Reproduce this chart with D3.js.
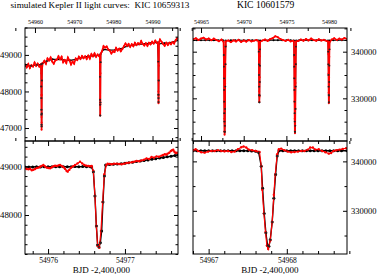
<!DOCTYPE html>
<html>
<head>
<meta charset="utf-8">
<script src="https://cdn.jsdelivr.net/npm/d3@7"></script>
<style>
  body { margin: 0; background: #fff; }
  svg { display: block; font-family: "Liberation Serif", "Times New Roman", serif; }
</style>
</head>
<body>
<script>
// ---------------------------//
//       DATA                 //
// ---------------------------//

var titleLeft = "simulated Kepler II light curves:  KIC 10659313";
var titleRight = "KIC 10601579";
var xLabel = "BJD -2,400,000";

// KIC 10659313, full light curve (observed, red)
var tlRed = [
  [54957.5,48740],[54957.9,48660],[54958.3,48750],[54958.7,48640],[54959.1,48720],[54959.5,48680],
  [54959.9,48790],[54960.3,48700],[54960.7,48760],[54961.1,48680],[54961.5,48740],
  [54961.60,48500],[54961.64,47900],[54961.67,47300],[54961.69,46955],[54961.71,47150],[54961.74,47900],[54961.78,48600],
  [54962.0,48780],[54962.4,48840],[54962.8,48760],[54963.2,48900],[54963.6,48850],[54964.0,48930],
  [54964.4,48820],[54964.8,48760],[54965.2,48850],[54965.6,48870],[54966.0,48960],[54966.4,48880],
  [54966.8,48950],[54967.2,48800],[54967.6,48860],[54968.0,48780],[54968.4,48930],[54968.8,48850],
  [54969.2,48740],[54969.6,48820],[54970.0,48760],[54970.4,48900],[54970.8,48860],[54971.2,48950],
  [54971.6,48890],[54972.0,48970],[54972.4,48910],[54972.8,48960],[54973.2,48890],[54973.6,48980],
  [54974.0,48900],[54974.4,49020],[54974.8,48960],[54975.2,49040],[54975.6,48950],[54976.0,49010],
  [54976.4,48960],
  [54976.55,48950],[54976.60,48500],[54976.63,47800],[54976.66,47345],[54976.69,47650],[54976.72,48500],[54976.77,49030],
  [54977.1,49100],[54977.5,49240],[54977.9,49200],[54978.3,49230],[54978.7,49150],[54979.1,49120],
  [54979.5,49040],[54979.9,49100],[54980.3,49080],[54980.7,49190],[54981.1,49120],[54981.5,49170],
  [54981.9,49100],[54982.3,49160],[54982.7,49240],[54983.1,49310],[54983.5,49250],[54983.9,49300],
  [54984.3,49220],[54984.7,49290],[54985.1,49240],[54985.5,49330],[54985.9,49270],[54986.3,49320],
  [54986.7,49290],[54987.1,49380],[54987.5,49300],[54987.9,49260],[54988.3,49320],[54988.7,49250],
  [54989.1,49330],[54989.5,49290],[54989.9,49360],[54990.3,49310],[54990.7,49390],[54991.1,49330],
  [54991.40,49300],[54991.46,48800],[54991.50,48000],[54991.53,47680],[54991.56,47900],[54991.60,48700],[54991.66,49350],
  [54991.9,49420],[54992.3,49360],[54992.7,49300],[54993.1,49250],[54993.5,49330],[54993.9,49270],
  [54994.3,49330],[54994.7,49290],[54995.1,49350],[54995.5,49310],[54995.9,49400],[54996.3,49460]
];

// KIC 10659313, full light curve (model, black)
var tlModel = [
  [54957.5,48700],[54959.0,48700],[54960.5,48730],[54961.55,48740],
  [54961.62,48136],[54961.64,47818],[54961.66,47500],[54961.67,47364],[54961.68,47090],[54961.70,47045],
  [54961.72,47400],[54961.76,48300],[54961.85,48760],
  [54963.0,48830],[54964.5,48880],[54966.0,48880],[54967.5,48860],[54969.0,48850],[54970.5,48880],
  [54972.0,48930],[54973.5,48960],[54975.0,48980],[54976.5,48990],
  [54976.60,48400],[54976.63,47773],[54976.65,47636],[54976.66,47345],[54976.70,47700],[54976.74,48800],[54976.78,49030],
  [54977.5,49150],[54979.0,49130],[54980.5,49140],[54982.0,49170],[54983.5,49240],[54985.0,49270],
  [54986.5,49290],[54988.0,49300],[54989.5,49320],[54991.3,49340],
  [54991.47,48818],[54991.50,47910],[54991.52,47818],[54991.53,47709],[54991.57,48300],[54991.62,49300],
  [54993.0,49320],[54994.5,49330],[54996.5,49400]
];

// KIC 10601579, full light curve (observed, red)
var trRed = [
  [54964.1,342650],[54964.4,342900],[54964.7,342500],[54965.0,342800],[54965.3,343000],[54965.6,342600],
  [54965.9,342850],[54966.2,342450],[54966.5,342800],[54966.8,342500],[54967.1,342250],[54967.4,342600],
  [54967.64,342100],[54967.67,339000],[54967.69,334300],[54967.71,329400],[54967.73,325600],[54967.75,322900],
  [54967.76,322200],[54967.79,324000],[54967.81,327700],[54967.83,333200],[54967.85,337300],[54967.88,341400],[54967.90,342200],
  [54968.2,342400],[54968.5,342050],[54968.8,342450],[54969.1,342200],[54969.4,342550],[54969.7,342100],
  [54970.0,342400],[54970.3,342150],[54970.6,342500],[54970.9,342200],[54971.2,342350],[54971.5,342500],
  [54971.74,342200],[54971.77,339800],[54971.79,335500],[54971.81,331500],[54971.83,329200],[54971.85,330400],
  [54971.87,334500],[54971.89,339000],[54971.92,342100],
  [54972.2,342400],[54972.5,342600],[54972.8,342300],[54973.1,342700],[54973.4,342900],[54973.7,343300],
  [54974.0,343100],[54974.3,342700],[54974.6,342500],[54974.9,342300],[54975.2,342550],[54975.5,342200],[54975.8,342350],
  [54975.88,342100],[54975.91,339000],[54975.93,334300],[54975.95,329400],[54975.97,325600],[54975.99,323000],
  [54976.00,322500],[54976.03,324100],[54976.05,327800],[54976.07,333300],[54976.09,337300],[54976.12,341400],[54976.14,342200],
  [54976.4,342300],[54976.7,342600],[54977.0,342350],[54977.3,342700],[54977.6,342400],[54977.9,342800],
  [54978.2,342500],[54978.5,342350],[54978.8,342650],[54979.1,342400],[54979.4,342550],[54979.7,342300],
  [54979.88,342200],[54979.91,339500],[54979.93,335300],[54979.95,331200],[54979.97,328950],[54979.99,330300],
  [54980.01,334400],[54980.03,338900],[54980.06,342000],
  [54980.3,342600],[54980.6,342900],[54980.9,342500],[54981.2,342800],[54981.5,342600],[54981.8,342950],[54982.1,342700]
];

// KIC 10601579, full light curve (model, black)
var trModel = [
  [54964.06,342450],[54964.5,342460],[54965.0,342450],[54965.5,342460],[54966.0,342450],[54966.5,342440],
  [54967.0,342450],[54967.5,342440],[54967.64,342400],
  [54967.673,339290],[54967.690,336790],[54967.700,334300],[54967.711,331800],[54967.722,329290],[54967.732,326810],
  [54967.742,325010],[54967.755,322870],[54967.771,322820],[54967.788,324120],[54967.813,327740],[54967.834,332530],
  [54967.856,337330],[54967.877,341100],[54967.90,342400],
  [54968.5,342450],[54969.0,342440],[54969.5,342450],[54970.0,342450],[54970.5,342440],[54971.0,342450],
  [54971.5,342440],[54971.74,342400],
  [54971.77,340000],[54971.785,337300],[54971.80,335010],[54971.815,332500],[54971.825,330730],[54971.835,329160],
  [54971.85,330600],[54971.865,333500],[54971.88,337000],[54971.90,340500],[54971.92,342400],
  [54972.5,342450],[54973.0,342460],[54973.5,342470],[54974.0,342460],[54974.5,342450],[54975.0,342440],
  [54975.5,342450],[54975.88,342400],
  [54975.913,339290],[54975.930,336790],[54975.940,334300],[54975.951,331800],[54975.962,329290],[54975.972,326810],
  [54975.982,325010],[54975.995,322870],[54976.011,322820],[54976.028,324120],[54976.053,327740],[54976.074,332530],
  [54976.096,337330],[54976.117,341100],[54976.14,342400],
  [54976.5,342450],[54977.0,342440],[54977.5,342450],[54978.0,342460],[54978.5,342450],[54979.0,342440],
  [54979.5,342450],[54979.88,342400],
  [54979.91,340000],[54979.925,337300],[54979.94,335010],[54979.955,332500],[54979.965,330730],[54979.975,329160],
  [54979.99,330600],[54980.005,333500],[54980.02,337000],[54980.04,340500],[54980.06,342400],
  [54980.5,342450],[54981.0,342460],[54981.5,342450],[54982.1,342450]
];

// KIC 10659313, zoom on one eclipse (observed, red)
var blRed = [
  [54975.701,48959],[54975.723,48945],[54975.745,48938],[54975.766,48952],[54975.788,48918],[54975.810,48931],
  [54975.831,48945],[54975.853,48966],[54975.874,48973],[54975.896,48990],[54975.918,49010],[54975.939,49027],
  [54975.961,48995],[54975.983,48973],[54976.004,48966],[54976.026,48959],[54976.048,48980],[54976.070,49000],
  [54976.091,49014],[54976.113,49007],[54976.135,49020],[54976.156,49027],[54976.178,49007],[54976.199,48986],
  [54976.220,48950],[54976.240,48910],[54976.255,48890],[54976.277,48930],[54976.299,48973],[54976.325,49000],
  [54976.351,49027],[54976.383,49060],[54976.416,49096],[54976.444,49060],[54976.472,49027],[54976.498,49014],
  [54976.524,49007],[54976.546,49000],[54976.567,49007],
  [54976.589,48904],[54976.610,48390],[54976.628,47774],[54976.645,47363],[54976.667,47329],[54976.688,47671],
  [54976.710,48267],[54976.732,48836],[54976.758,49027],[54976.775,49055],
  [54976.801,49048],[54976.827,49041],[54976.859,49055],[54976.892,49055],[54976.925,49048],[54976.957,49041],
  [54976.990,49055],[54977.022,49068],[54977.055,49075],[54977.087,49082],[54977.120,49096],[54977.152,49110],
  [54977.184,49103],[54977.216,49123],[54977.249,49137],[54977.281,49164],[54977.314,49150],[54977.346,49192],
  [54977.378,49178],[54977.411,49205],[54977.443,49198],[54977.476,49219],[54977.497,49232],[54977.519,49247],
  [54977.537,49240],[54977.554,49260],[54977.576,49280],[54977.597,49315],[54977.613,49330],[54977.628,49342],
  [54977.643,49300],[54977.658,49274],[54977.676,49280],[54977.693,49274]
];

// KIC 10659313, zoom on one eclipse (model, black)
var blModel = [
  [54975.70,48985],[54975.75,48988],[54975.80,48986],[54975.85,48990],[54975.90,48988],[54975.95,48992],
  [54976.00,48990],[54976.05,48992],[54976.10,48990],[54976.15,48993],[54976.20,48991],[54976.25,48993],
  [54976.30,48992],[54976.35,48994],[54976.40,48992],[54976.45,48994],[54976.50,48993],[54976.55,48990],
  [54976.567,48986],[54976.589,48890],[54976.610,48390],[54976.628,47774],[54976.645,47384],[54976.662,47342],
  [54976.680,47432],[54976.697,47671],[54976.714,48267],[54976.732,48801],[54976.749,49027],
  [54976.80,49038],[54976.85,49043],[54976.90,49048],[54976.95,49055],[54977.00,49065],[54977.05,49075],
  [54977.10,49085],[54977.15,49097],[54977.20,49108],[54977.25,49120],[54977.30,49132],[54977.35,49145],
  [54977.40,49157],[54977.45,49170],[54977.50,49182],[54977.55,49195],[54977.60,49208],[54977.65,49222],[54977.69,49236]
];

// KIC 10601579, zoom on one eclipse (observed, red)
var brRed = [
  [54966.800,342252],[54966.834,342457],[54966.864,342115],[54966.906,341842],[54966.949,341773],[54966.992,341977],
  [54967.034,342115],[54967.077,342115],[54967.119,342252],[54967.162,342115],[54967.204,342047],[54967.247,342115],
  [54967.290,341909],[54967.332,341977],[54967.375,342457],[54967.417,342867],[54967.447,343004],[54967.481,342799],
  [54967.515,342388],[54967.558,342252],[54967.600,342115],[54967.630,341977],[54967.651,341900],
  [54967.673,339035],[54967.686,334250],[54967.707,329450],[54967.728,325690],[54967.745,322960],[54967.762,322260],
  [54967.788,324000],[54967.813,327740],[54967.834,333250],[54967.852,337330],[54967.877,341440],[54967.898,342457],
  [54967.928,342593],[54967.971,342252],[54968.013,341977],[54968.056,341842],[54968.098,341909],[54968.141,341977],
  [54968.184,342115],[54968.226,342115],[54968.269,342388],[54968.299,342799],[54968.333,342799],[54968.367,342388],
  [54968.409,342457],[54968.452,342115],[54968.494,341842],[54968.537,341566],[54968.567,341704],[54968.597,342115],
  [54968.631,342252],[54968.673,342388],[54968.716,342525],[54968.758,342663]
];

// KIC 10601579, zoom on one eclipse (model, black)
var brModel = [
  [54966.80,342150],[54966.85,342160],[54966.90,342150],[54966.95,342155],[54967.00,342150],[54967.05,342160],
  [54967.10,342150],[54967.15,342155],[54967.20,342150],[54967.25,342145],[54967.30,342150],[54967.35,342140],
  [54967.40,342150],[54967.45,342140],[54967.50,342130],[54967.55,342120],[54967.60,342050],[54967.64,341800],
  [54967.673,339035],[54967.690,334590],[54967.711,329450],[54967.732,325550],[54967.754,322960],[54967.771,322820],
  [54967.788,324120],[54967.813,327740],[54967.834,332530],[54967.856,337330],[54967.877,341100],[54967.90,342150],
  [54967.95,342160],[54968.00,342150],[54968.05,342155],[54968.10,342150],[54968.15,342160],[54968.20,342150],
  [54968.25,342155],[54968.30,342150],[54968.35,342160],[54968.40,342150],[54968.45,342155],[54968.50,342150],
  [54968.55,342160],[54968.60,342150],[54968.65,342155],[54968.70,342150],[54968.77,342150]
];

// tick values
var tlXTicks = [54960, 54970, 54980, 54990];
var tlYTicks = [47000, 48000, 49000];
var trXTicks = [54965, 54970, 54975, 54980];
var trYTicks = [330000, 340000];
var blXTicks = [54976, 54977];
var blYTicks = [48000, 49000];
var brXTicks = [54967, 54968];
var brYTicks = [330000, 340000];

// ---------------------------//
//       SVG                  //
// ---------------------------//

var svg = d3.select("body")
  .append("svg")
  .attr("width", 377)
  .attr("height", 274);

var defs = svg.append("defs");

function minorTicks(lo, hi, step, majors) {
  return d3.range(lo, hi + step / 2, step).filter(function(v) {
    return !majors.some(function(m) { return Math.abs(m - v) < step / 10; });
  });
}

function styleAxis(g, size) {
  g.attr("font-family", null).attr("font-size", null);
  g.select(".domain").remove();
  g.selectAll("line").attr("stroke", "#000");
  g.selectAll("text").attr("fill", "#000").style("font-size", size + "px");
}

function drawPanel(p) {
  var x = d3.scaleLinear().domain(p.xDomain).range([p.x0, p.x1]);
  var y = d3.scaleLinear().domain(p.yDomain).range([p.y1, p.y0]);
  var fmt = d3.format("d");

  defs.append("clipPath").attr("id", "clip-" + p.id)
    .append("rect")
    .attr("x", p.x0).attr("y", p.y0)
    .attr("width", p.x1 - p.x0).attr("height", p.y1 - p.y0);

  var plot = svg.append("g").attr("clip-path", "url(#clip-" + p.id + ")");

  var line = d3.line()
    .x(function(d) { return x(d[0]); })
    .y(function(d) { return y(d[1]); });

  // model (black)
  plot.append("path")
    .datum(p.model)
    .attr("d", line)
    .attr("fill", "none")
    .attr("stroke", "#000")
    .attr("stroke-width", p.modelWidth);
  plot.append("g")
    .selectAll("circle")
    .data(p.model)
    .enter()
    .append("circle")
    .attr("cx", function(d) { return x(d[0]); })
    .attr("cy", function(d) { return y(d[1]); })
    .attr("r", p.modelDot)
    .attr("fill", "#000");

  // observed (red)
  plot.append("path")
    .datum(p.red)
    .attr("d", line)
    .attr("fill", "none")
    .attr("stroke", "#ff0000")
    .attr("stroke-width", p.redWidth);
  plot.append("g")
    .selectAll("circle")
    .data(p.red)
    .enter()
    .append("circle")
    .attr("cx", function(d) { return x(d[0]); })
    .attr("cy", function(d) { return y(d[1]); })
    .attr("r", p.redDot)
    .attr("fill", "#ff0000");

  // black dots inside eclipses stay visible over the red line
  if (p.dotsBelow) {
    plot.append("g")
      .selectAll("circle")
      .data(p.model.filter(function(d) { return d[1] < p.dotsBelow; }))
      .enter()
      .append("circle")
      .attr("cx", function(d) { return x(d[0]); })
      .attr("cy", function(d) { return y(d[1]); })
      .attr("r", p.overDot)
      .attr("fill", "#222");
  }

  // axes: inward ticks on all four sides
  var xMinor = minorTicks(p.xMinor[0], p.xMinor[1], p.xMinor[2], p.xTicks);
  var yMinor = minorTicks(p.yMinor[0], p.yMinor[1], p.yMinor[2], p.yTicks);

  var top = svg.append("g").attr("transform", "translate(0," + p.y0 + ")")
    .call(d3.axisTop(x).tickValues(p.xTicks).tickSize(-5).tickPadding(4.5)
      .tickFormat(p.xLabelsTop ? fmt : ""));
  styleAxis(top, 6);
  var topMinor = svg.append("g").attr("transform", "translate(0," + p.y0 + ")")
    .call(d3.axisTop(x).tickValues(xMinor).tickSize(-3).tickFormat(""));
  styleAxis(topMinor, 6);

  var bottom = svg.append("g").attr("transform", "translate(0," + p.y1 + ")")
    .call(d3.axisBottom(x).tickValues(p.xTicks).tickSize(-5).tickPadding(3.7)
      .tickFormat(p.xLabelsTop ? "" : fmt));
  styleAxis(bottom, 7.5);
  var bottomMinor = svg.append("g").attr("transform", "translate(0," + p.y1 + ")")
    .call(d3.axisBottom(x).tickValues(xMinor).tickSize(-3).tickFormat(""));
  styleAxis(bottomMinor, 7.5);

  var left = svg.append("g").attr("transform", "translate(" + p.x0 + ",0)")
    .call(d3.axisLeft(y).tickValues(p.yTicks).tickSize(-4).tickPadding(3)
      .tickFormat(p.yLabelsRight ? "" : fmt));
  styleAxis(left, 8.8);
  var leftMinor = svg.append("g").attr("transform", "translate(" + p.x0 + ",0)")
    .call(d3.axisLeft(y).tickValues(yMinor).tickSize(-2.5).tickFormat(""));
  styleAxis(leftMinor, 8.8);

  var right = svg.append("g").attr("transform", "translate(" + p.x1 + ",0)")
    .call(d3.axisRight(y).tickValues(p.yTicks).tickSize(-4).tickPadding(4)
      .tickFormat(p.yLabelsRight ? fmt : ""));
  styleAxis(right, 8.5);
  var rightMinor = svg.append("g").attr("transform", "translate(" + p.x1 + ",0)")
    .call(d3.axisRight(y).tickValues(yMinor).tickSize(-2.5).tickFormat(""));
  styleAxis(rightMinor, 8.5);

  // frame
  svg.append("rect")
    .attr("x", p.x0).attr("y", p.y0)
    .attr("width", p.x1 - p.x0).attr("height", p.y1 - p.y0)
    .attr("fill", "none")
    .attr("stroke", "#000")
    .attr("stroke-width", 1);
}

// ---------------------------//
//       PANELS               //
// ---------------------------//

drawPanel({
  id: "tl", x0: 25, x1: 178, y0: 28, y1: 141,
  xDomain: [54957.46, 54996.5], yDomain: [46645, 49736],
  xTicks: tlXTicks, yTicks: tlYTicks, xMinor: [54955, 55000, 5], yMinor: [46750, 49750, 250],
  xLabelsTop: true, yLabelsRight: false,
  red: tlRed, model: tlModel,
  redWidth: 1.7, redDot: 1.0, modelWidth: 1.2, modelDot: 1.0, dotsBelow: 48850, overDot: 0.9
});

drawPanel({
  id: "tr", x0: 193, x1: 347, y0: 28, y1: 141,
  xDomain: [54964.06, 54982.1], yDomain: [320857, 345075],
  xTicks: trXTicks, yTicks: trYTicks, xMinor: [54962.5, 54982.5, 2.5], yMinor: [322500, 345000, 2500],
  xLabelsTop: true, yLabelsRight: true,
  red: trRed, model: trModel,
  redWidth: 1.7, redDot: 1.0, modelWidth: 1.2, modelDot: 1.0, dotsBelow: 341500, overDot: 0.9
});

drawPanel({
  id: "bl", x0: 25, x1: 178, y0: 141, y1: 254,
  xDomain: [54975.70, 54977.69], yDomain: [47199, 49520],
  xTicks: blXTicks, yTicks: blYTicks, xMinor: [54975.8, 54977.6, 0.2], yMinor: [47200, 49400, 200],
  xLabelsTop: false, yLabelsRight: false,
  red: blRed, model: blModel,
  redWidth: 1.2, redDot: 1.2, modelWidth: 1.4, modelDot: 1.5, dotsBelow: 48950, overDot: 1.0
});

drawPanel({
  id: "br", x0: 193, x1: 347, y0: 141, y1: 254,
  xDomain: [54966.80, 54968.77], yDomain: [321260, 344126],
  xTicks: brXTicks, yTicks: brYTicks, xMinor: [54966.8, 54968.8, 0.2], yMinor: [325000, 340000, 5000],
  xLabelsTop: false, yLabelsRight: true,
  red: brRed, model: brModel,
  redWidth: 1.2, redDot: 1.2, modelWidth: 1.4, modelDot: 1.5, dotsBelow: 341900, overDot: 1.0
});

// ---------------------------//
//       TEXT                 //
// ---------------------------//

svg.append("text")
  .attr("x", 10.5)
  .attr("y", 8)
  .style("font-size", "9.2px")
  .style("white-space", "pre")
  .text(titleLeft);

svg.append("text")
  .attr("x", 237)
  .attr("y", 8)
  .style("font-size", "9.6px")
  .text(titleRight);

svg.append("text")
  .attr("x", 101.5)
  .attr("y", 273)
  .attr("text-anchor", "middle")
  .style("font-size", "9px")
  .text(xLabel);

svg.append("text")
  .attr("x", 270)
  .attr("y", 273)
  .attr("text-anchor", "middle")
  .style("font-size", "9px")
  .text(xLabel);
</script>
</body>
</html>
